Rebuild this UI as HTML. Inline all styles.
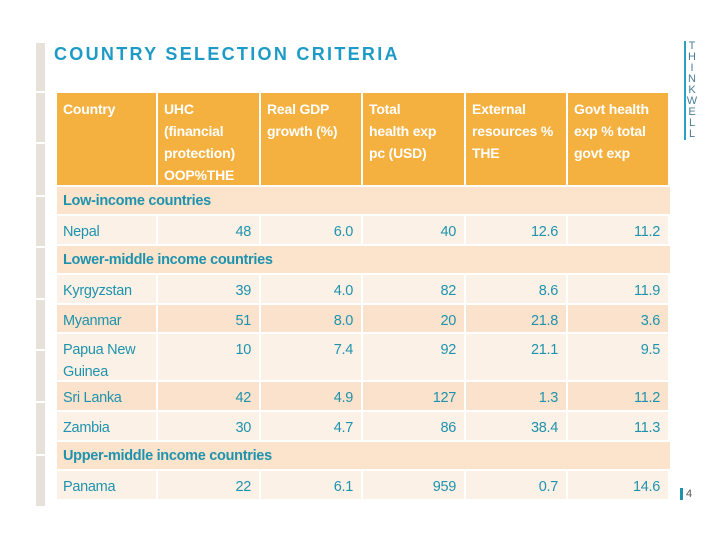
<!DOCTYPE html>
<html><head><meta charset="utf-8"><style>
body{margin:0;width:720px;height:540px;background:#fff;position:relative;overflow:hidden;font-family:"Liberation Sans",sans-serif}
.c{position:absolute;box-sizing:border-box;padding:5px 7px 0 6px;font-size:14.5px;letter-spacing:-0.3px;line-height:22px;color:#1f93ad}
.h{background:#f4b13f;color:#fff;font-weight:bold;letter-spacing:-0.2px;font-size:14px}
.s{background:#fbe3cc;font-weight:bold;color:#1f93ad;padding-top:3px}
.n{text-align:right;padding-right:8px}
.seg{position:absolute;left:36px;width:9px;background:#e6e2da}
</style></head><body>
<div id="lb"></div>
<div style="position:absolute;left:54px;top:44px;font-size:18px;font-weight:bold;letter-spacing:2.3px;color:#1d9bc6;">COUNTRY SELECTION CRITERIA</div>
<div style="position:absolute;left:684px;top:41px;width:12px;font-size:11px;line-height:11px;color:#4a7e94;text-align:center;border-left:2px solid #29a3c4;">T<br>H<br>I<br>N<br>K<br>W<br>E<br>L<br>L</div>
<div style="position:absolute;left:680px;top:488px;font-size:11px;color:#555;border-left:3px solid #1f93ad;padding-left:3px;line-height:12px">4</div>
<div id="t"></div>
<script>
const headers=["Country","UHC (financial protection) OOP%THE","Real GDP growth (%)","Total health exp pc (USD)","External resources % THE","Govt health exp % total govt exp"];
const countries=["Nepal","Kyrgyzstan","Myanmar","Papua New Guinea","Sri Lanka","Zambia","Panama"];
const uhc=["48","39","51","10","42","30","22"];
const gdp=["6.0","4.0","8.0","7.4","4.9","4.7","6.1"];
const the=["40","82","20","92","127","86","959"];
const ext=["12.6","8.6","21.8","21.1","1.3","38.4","0.7"];
const gov=["11.2","11.9","3.6","9.5","11.2","11.3","14.6"];
const X=[57,158,261,363,466,568,670];
const rows=[["h",93,185],["s",187,214,"Low-income countries"],["r",216,244,0,"#fcf1e7"],["s",246,273,"Lower-middle income countries"],["r",275,303,1,"#fcf1e7"],["r",305,332,2,"#fbe2cc"],["r",334,380,3,"#fcf1e7"],["r",382,410,4,"#fbe2cc"],["r",412,440,5,"#fcf1e7"],["s",442,469,"Upper-middle income countries"],["r",471,499,6,"#fcf1e7"]];
const t=document.getElementById('t');
function cell(x,y,w,h,cls,txt,bg){const d=document.createElement('div');d.className='c '+cls;d.style.left=x+'px';d.style.top=y+'px';d.style.width=w+'px';d.style.height=h+'px';if(bg)d.style.background=bg;d.textContent=txt;


t.appendChild(d);return d;}
rows.forEach(r=>{const y=r[1],h=r[2]-r[1];
if(r[0]=="h"){for(let i=0;i<6;i++){const d=cell(X[i],y,X[i+1]-X[i]-2,h,'h',headers[i]);if(i==3)d.style.paddingRight='22px';}}
else if(r[0]=="s"){cell(X[0],y,X[6]-X[0],h,'s',r[3]);}
else{const k=r[3];const v=[countries[k],uhc[k],gdp[k],the[k],ext[k],gov[k]];
for(let i=0;i<6;i++)cell(X[i],y,X[i+1]-X[i]-2,h,i?'n':'',v[i],r[4]);}});
const lb=document.getElementById('lb');
const segs=[[43,91],[93,142],[144,195],[197,246],[248,298],[300,349],[351,401],[403,454],[456,506]];
segs.forEach(s=>{const d=document.createElement('div');d.className='seg';d.style.top=s[0]+'px';d.style.height=(s[1]-s[0])+'px';


lb.appendChild(d);});
</script>
</body></html>
